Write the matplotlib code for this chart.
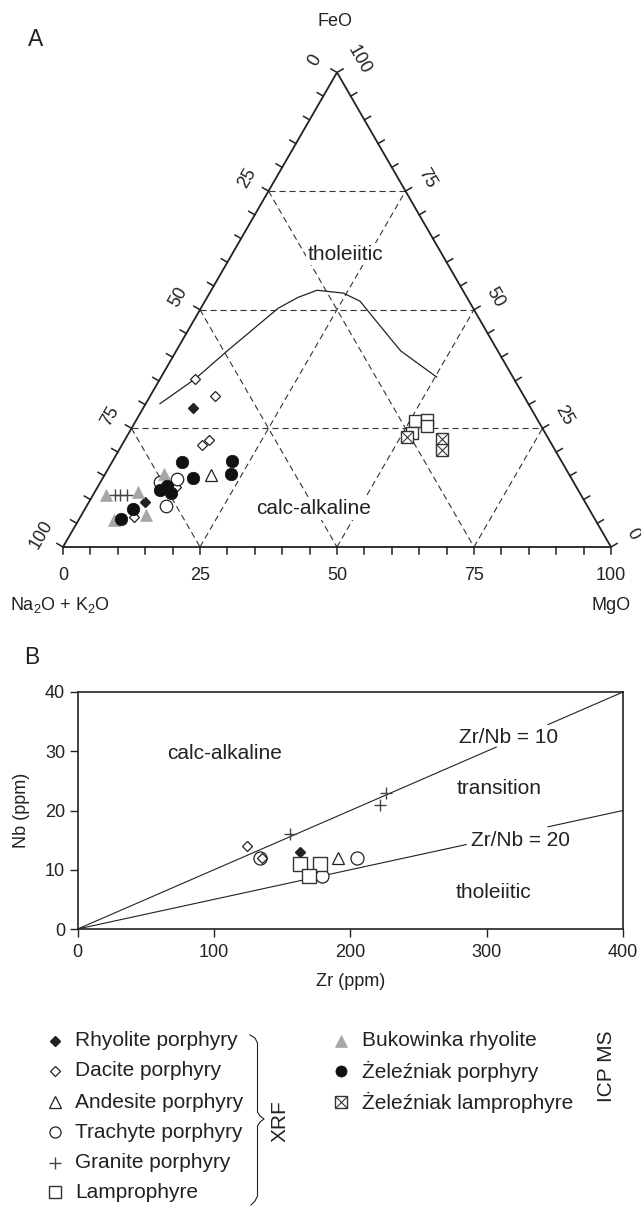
import numpy as np
import matplotlib.pyplot as plt

plt.rcParams['font.family'] = ['Liberation Sans', 'DejaVu Sans']
plt.rcParams['mathtext.fontset'] = 'custom'
plt.rcParams['mathtext.rm'] = 'Liberation Sans'
plt.rcParams['text.color'] = '#222222'

INK = '#222222'
GREY = '#a6a6a6'
SQ3 = np.sqrt(3) / 2

# A: FeO - MgO - (Na2O + K2O), wt% FeO and MgO (alkalis = remainder)
rhyolite_feo = [29.2, 9.5]
rhyolite_mgo = [9.2, 10.2]
dacite_feo = [35.4, 31.9, 22.6, 21.5, 6.4, 12.6]
dacite_mgo = [6.4, 11.7, 15.3, 14.6, 9.7, 14.3]
andesite_feo = [15.1]
andesite_mgo = [19.5]
trachyte_feo = [14.4, 8.6, 13.8]
trachyte_mgo = [13.6, 14.5, 10.8]
granite_feo = [11.0, 11.0, 10.9]
granite_mgo = [4.0, 4.9, 6.2]
lamp_feo = [26.5, 26.8, 25.6, 24.0]
lamp_mgo = [51.0, 53.0, 53.6, 51.7]
bukowinka_feo = [15.3, 11.0, 11.6, 6.7, 5.7]
bukowinka_mgo = [10.8, 2.3, 7.8, 11.8, 6.5]
zel_porph_feo = [17.9, 14.5, 18.2, 15.3, 12.8, 12.0, 11.3, 8.1, 6.0]
zel_porph_mgo = [12.8, 16.4, 21.8, 23.0, 12.5, 11.7, 14.1, 8.8, 7.5]
zel_lamp_feo = [23.1, 22.8, 20.5]
zel_lamp_mgo = [51.3, 57.8, 58.9]

# tholeiitic / calc-alkaline boundary
boundary_feo = [30.2, 35.4, 41.3, 50.3, 52.6, 54.1, 53.5, 51.8, 44.0, 41.3, 35.8]
boundary_mgo = [2.6, 6.4, 9.3, 14.1, 16.6, 19.3, 24.4, 28.3, 37.7, 41.0, 50.3]

# B: Zr vs Nb (ppm), XRF samples
zr_rhyolite = [163]
nb_rhyolite = [13]
zr_dacite = [124, 135]
nb_dacite = [14, 12]
zr_andesite = [191]
nb_andesite = [12]
zr_trachyte = [134, 179, 205]
nb_trachyte = [12, 9, 12]
zr_granite = [156, 222, 226]
nb_granite = [16, 21, 23]
zr_lamp = [163, 178, 170]
nb_lamp = [11, 11, 9]

zr_nb_ratios = [10, 20]

# marker styles per rock group
STY = {
    'rhyolite': dict(marker='D', ms=5.6, mfc=INK, mec=INK, mew=1.0),
    'dacite': dict(marker='D', ms=5.6, mfc='white', mec=INK, mew=0.9),
    'andesite': dict(marker='^', ms=9, mfc='white', mec=INK, mew=0.9),
    'trachyte': dict(marker='o', ms=9, mfc='white', mec=INK, mew=0.9),
    'granite': dict(marker='+', ms=9, mfc='none', mec='#444444', mew=1.0),
    'lamp': dict(marker='s', ms=8.6, mfc='white', mec='#333333', mew=1.0),
    'bukowinka': dict(marker='^', ms=9, mfc=GREY, mec=GREY, mew=0.5),
    'zel_porph': dict(marker='o', ms=9, mfc='#111111', mec='#111111', mew=0.5),
    'zel_lamp': dict(marker='s', ms=8.6, mfc='white', mec='#333333', mew=1.0),
}


def tern(feo, mgo):
    feo = np.asarray(feo, float) / 100.0
    mgo = np.asarray(mgo, float) / 100.0
    return mgo + feo / 2, feo * SQ3


def crossed(ax, x, y, ms, z):
    ax.plot(x, y, ls='none', zorder=z, **STY['zel_lamp'])
    ax.plot(x, y, ls='none', marker='x', ms=ms, mec='#333333', mew=0.8, zorder=z + 0.1)


fig = plt.figure(figsize=(6.41, 12.06), dpi=100)

# pixel canvas for free text and the legend
canvas = fig.add_axes([0, 0, 1, 1])
canvas.set_xlim(0, 641)
canvas.set_ylim(1206, 0)
canvas.axis('off')

# ---------------- A: ternary ----------------
ax = fig.add_axes([0, 1 - 620 / 1206, 1, 620 / 1206])
ax.set_xlim(-63 / 548, 578 / 548)
ax.set_ylim(-73 / 548, 547 / 548)
ax.axis('off')

ox, oy = tern([0, 0, 100, 0], [0, 100, 0, 0])
ax.plot(ox, oy, color=INK, lw=1.3, solid_joinstyle='miter', zorder=3)

for v in (25, 50, 75):
    for f, m in (([v, v], [0, 100 - v]), ([0, 100 - v], [v, v]), ([100 - v, 0], [0, 100 - v])):
        gx, gy = tern(f, m)
        ax.plot(gx, gy, color='#333333', lw=0.8, ls=(0, (5.5, 3.5)), zorder=1)

steps = np.arange(0, 101, 5)
tick_len = 7 / 548
lab_off = 25 / 548
edges = [
    (tern(0 * steps, steps), (0.0, -1.0), steps, 0),
    (tern(steps, 0 * steps), (-SQ3, 0.5), 100 - steps, 60),
    (tern(steps, 100 - steps), (SQ3, 0.5), steps, -60),
]
for (px, py), (nx, ny), vals, rot in edges:
    for x0, y0, val in zip(px, py, vals):
        ax.plot([x0, x0 + nx * tick_len], [y0, y0 + ny * tick_len], color=INK, lw=1.1, zorder=3)
        if val % 25 == 0:
            if rot == 0:
                ax.text(x0, y0 - 28 / 548, str(int(val)), ha='center', va='center', fontsize=13)
            else:
                ax.text(x0 + nx * lab_off, y0 + ny * lab_off, str(int(val)), ha='center',
                        va='center', rotation=rot, rotation_mode='anchor', fontsize=13)

bx_, by_ = tern(boundary_feo, boundary_mgo)
ax.plot(bx_, by_, color=INK, lw=0.9, zorder=2)

ax.text((345 - 63) / 548, (547 - 254) / 548, 'tholeiitic', ha='center', va='center', fontsize=15,
        bbox=dict(facecolor='white', edgecolor='none', pad=1), zorder=2)
ax.text((314 - 63) / 548, (547 - 509) / 548, 'calc-alkaline', ha='center', va='center', fontsize=15,
        bbox=dict(facecolor='white', edgecolor='none', pad=1), zorder=2)

groups_a = [
    ('dacite', dacite_feo, dacite_mgo),
    ('rhyolite', rhyolite_feo, rhyolite_mgo),
    ('andesite', andesite_feo, andesite_mgo),
    ('trachyte', trachyte_feo, trachyte_mgo),
    ('granite', granite_feo, granite_mgo),
    ('lamp', lamp_feo, lamp_mgo),
    ('bukowinka', bukowinka_feo, bukowinka_mgo),
    ('zel_porph', zel_porph_feo, zel_porph_mgo),
]
for i, (key, feo, mgo) in enumerate(groups_a):
    x, y = tern(feo, mgo)
    ax.plot(x, y, ls='none', zorder=4 + i * 0.2, **STY[key])
x, y = tern(zel_lamp_feo, zel_lamp_mgo)
crossed(ax, x, y, 8.6, 6.5)

canvas.text(36, 40, 'A', fontsize=16.5, ha='center', va='center')
canvas.text(335, 22, 'FeO', fontsize=13, ha='center', va='center')
canvas.text(10, 605, r'Na$_\mathregular{2}$O + K$_\mathregular{2}$O', fontsize=13, ha='left', va='center')
canvas.text(631, 605, 'MgO', fontsize=13, ha='right', va='center')

# ---------------- B: Zr vs Nb ----------------
canvas.text(32, 657, 'B', fontsize=16.5, ha='center', va='center')

bx = fig.add_axes([77.7 / 641, 277 / 1206, 545.3 / 641, 237 / 1206])
bx.set_xlim(0, 400)
bx.set_ylim(0, 40)
bx.set_xticks([0, 100, 200, 300, 400])
bx.set_yticks([0, 10, 20, 30, 40])
bx.tick_params(direction='out', length=5.5, width=1.0, labelsize=13, colors=INK)
bx.tick_params(axis='x', pad=5)
bx.tick_params(axis='y', pad=3.5)
for s in bx.spines.values():
    s.set_linewidth(1.2)
    s.set_color(INK)
bx.set_xlabel('Zr (ppm)', fontsize=13, labelpad=9, color=INK)
bx.set_ylabel('Nb (ppm)', fontsize=13, labelpad=11, color=INK)

# ratio lines, broken where their labels sit
gaps = {10: (307, 345), 20: (285, 345)}
for r in zr_nb_ratios:
    g0, g1 = gaps[r]
    for seg in ((0, g0), (g1, 400)):
        xs = np.array(seg, float)
        bx.plot(xs, xs / r, color=INK, lw=0.8, zorder=2, clip_on=False)

bx.text(316, 32.3, 'Zr/Nb = 10', ha='center', va='center', fontsize=15)
bx.text(325, 14.9, 'Zr/Nb = 20', ha='center', va='center', fontsize=15)
bx.text(108, 29.7, 'calc-alkaline', ha='center', va='center', fontsize=15)
bx.text(309, 23.7, 'transition', ha='center', va='center', fontsize=15)
bx.text(305, 6.1, 'tholeiitic', ha='center', va='center', fontsize=15)

b_sty = {k: dict(v) for k, v in STY.items()}
b_sty['lamp']['ms'] = 9.6
b_sty['trachyte']['ms'] = 9.4
groups_b = [
    ('trachyte', zr_trachyte, nb_trachyte),
    ('dacite', zr_dacite, nb_dacite),
    ('rhyolite', zr_rhyolite, nb_rhyolite),
    ('andesite', zr_andesite, nb_andesite),
    ('granite', zr_granite, nb_granite),
    ('lamp', zr_lamp, nb_lamp),
]
for i, (key, zr, nb) in enumerate(groups_b):
    bx.plot(zr, nb, ls='none', zorder=4 + i * 0.2, **b_sty[key])

# ---------------- legend ----------------
rows = [1041, 1071, 1102, 1132, 1163, 1192]
left_items = [
    ('rhyolite', 'Rhyolite porphyry'),
    ('dacite', 'Dacite porphyry'),
    ('andesite', 'Andesite porphyry'),
    ('trachyte', 'Trachyte porphyry'),
    ('granite', 'Granite porphyry'),
    ('lamp', 'Lamprophyre'),
]
right_items = [
    ('bukowinka', 'Bukowinka rhyolite'),
    ('zel_porph', 'Żeleźniak porphyry'),
    ('zel_lamp', 'Żeleźniak lamprophyre'),
]
leg_ms = {'rhyolite': 5, 'dacite': 5}
for (key, label), yy in zip(left_items, rows):
    st = dict(STY[key])
    st['ms'] = leg_ms.get(key, 8)
    canvas.plot([55], [yy], ls='none', clip_on=False, **st)
    canvas.text(75, yy, label, fontsize=15, ha='left', va='center')
for (key, label), yy in zip(right_items, rows):
    st = dict(STY[key])
    st['ms'] = 8
    canvas.plot([341], [yy], ls='none', **st)
    if key == 'zel_lamp':
        canvas.plot([341], [yy], ls='none', marker='x', ms=8, mec='#333333', mew=0.8)
    canvas.text(362, yy, label, fontsize=15, ha='left', va='center')

# brace grouping the XRF entries
brace_x = [250, 255, 257.5, 257.5, 260, 264, 260, 257.5, 257.5, 255, 251]
brace_y = [1035, 1038, 1043, 1112, 1116, 1119, 1122, 1126, 1196, 1201, 1205]
canvas.plot(brace_x, brace_y, color=INK, lw=0.8, clip_on=False)
canvas.text(280, 1121, 'XRF', fontsize=15, rotation=90, ha='center', va='center')
canvas.text(607, 1066, 'ICP MS', fontsize=15, rotation=90, ha='center', va='center')

fig.savefig('out.png', dpi=100)
